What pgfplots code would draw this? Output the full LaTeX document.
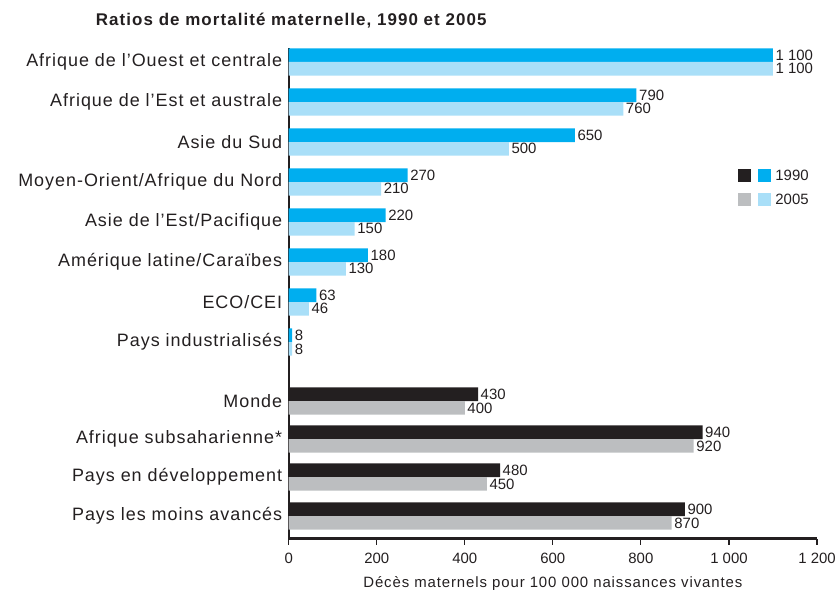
\documentclass[border=0pt]{standalone}
\usepackage{fontspec}
\setmainfont{Liberation Sans}
\newfontfamily\catfont{Liberation Sans}[LetterSpace=5.5]
\newfontfamily\titfont{Liberation Sans}[LetterSpace=6.3]
\newfontfamily\labfont{Liberation Sans}[LetterSpace=6]
\usepackage{pgfplots}
\usepackage{pgfplotstable}
\pgfplotsset{compat=1.18}
\definecolor{cBlue}{HTML}{00AEEF}
\definecolor{cLBlue}{HTML}{A9DFF8}
\definecolor{cBlack}{HTML}{231F20}
\definecolor{cGray}{HTML}{BCBEC0}
\definecolor{cText}{HTML}{231F20}

\pgfplotstableread{
pos a b
0 1100 1100
-1 790 760
-2 650 500
-3 270 210
-4 220 150
-5 180 130
-6 63 46
-7 8 8
}\regions
\pgfplotstableread{
pos a b
-8.475 430 400
-9.425 940 920
-10.375 480 450
-11.35 900 870
}\aggr

\begin{document}
\begin{tikzpicture}
\begin{axis}[
  name=ax, scale only axis, width=528.3bp, height=490.5bp,
  xmin=0, xmax=1200, ymin=-11.91, ymax=0.35,
  clip=false,
  axis x line=bottom, axis y line=left,
  axis line style={-, line width=2.3bp, draw=cText},
  xtick={0,200,400,600,800,1000,1200},
  ytick={0,-1,-2,-3,-4,-5,-6,-7,-8.475,-9.425,-10.375,-11.35},
  yticklabels={Afrique de l’Ouest et centrale, Afrique de l’Est et australe, Asie du Sud, Moyen-Orient/Afrique du Nord, Asie de l’Est/Pacifique, Amérique latine/Caraïbes, ECO/CEI, Pays industrialisés, Monde, Afrique subsaharienne*, Pays en développement, Pays les moins avancés},
  tick align=outside,
  major tick length=6bp,
  x tick style={line width=1.1bp, draw=cText},
  y tick style={draw=none},
  xticklabel style={font=\fontsize{15}{18}\selectfont, text=cText, yshift=-5bp},
  yticklabel style={font=\catfont\fontsize{18}{21}\selectfont, text=cText, xshift=3bp},
  /pgf/number format/1000 sep={\ },
  /pgf/number format/assume math mode=true,
  xlabel={Décès maternels pour 100 000 naissances vivantes},
  xlabel style={font=\labfont\fontsize{15}{18}\selectfont, text=cText, at={(axis description cs:0.5,-0.0989)}, anchor=base, inner sep=0pt},
  title={Ratios de mortalité maternelle, 1990 et 2005},
  every axis title/.style={font=\titfont\bfseries\fontsize{17}{20}\selectfont, text=cText, at={(axis description cs:-0.3653,1.0449)}, anchor=base west, inner sep=0pt},
  every node near coord/.style={anchor=west, font=\fontsize{15}{18}\selectfont, inner sep=0pt, xshift=2.5bp, text=cText},
  legend cell align=left,
  legend style={draw=none, fill=none, inner sep=0pt, outer sep=0pt,
    at={(axis cs:1020.6,-3.14)}, anchor=west, row sep=11.5bp, column sep=5bp,
    nodes={inner sep=0pt, font=\fontsize{15}{18}\selectfont, text=cText}},
]
\addlegendimage{legend image code/.code={
  \fill[cBlack] (0bp,-6bp) rectangle (12bp,6bp);
  \fill[cBlue] (20bp,-6bp) rectangle (32bp,6bp);}}
\addlegendentry{1990}
\addlegendimage{legend image code/.code={
  \fill[cGray] (0bp,-6bp) rectangle (12bp,6bp);
  \fill[cLBlue] (20bp,-6bp) rectangle (32bp,6bp);}}
\addlegendentry{2005}

\addplot[xbar, bar width=0.34, bar shift=0.17, fill=cBlue, draw=none, forget plot, point meta=x,
  nodes near coords, every node near coord/.append style={yshift=6.8bp}] table[x=a,y=pos]{\regions};
\addplot[xbar, bar width=0.34, bar shift=-0.17, fill=cLBlue, draw=none, forget plot, point meta=x,
  nodes near coords, every node near coord/.append style={yshift=-6.8bp}] table[x=b,y=pos]{\regions};
\addplot[xbar, bar width=0.34, bar shift=0.17, fill=cBlack, draw=none, forget plot, point meta=x,
  nodes near coords, every node near coord/.append style={yshift=6.8bp}] table[x=a,y=pos]{\aggr};
\addplot[xbar, bar width=0.34, bar shift=-0.17, fill=cGray, draw=none, forget plot, point meta=x,
  nodes near coords, every node near coord/.append style={yshift=-6.8bp}] table[x=b,y=pos]{\aggr};
\end{axis}
\pgfresetboundingbox
\path[use as bounding box] ([xshift=-288.7bp,yshift=-51.5bp]ax.south west) rectangle ([xshift=22bp,yshift=48bp]ax.north east);
\end{tikzpicture}
\end{document}
